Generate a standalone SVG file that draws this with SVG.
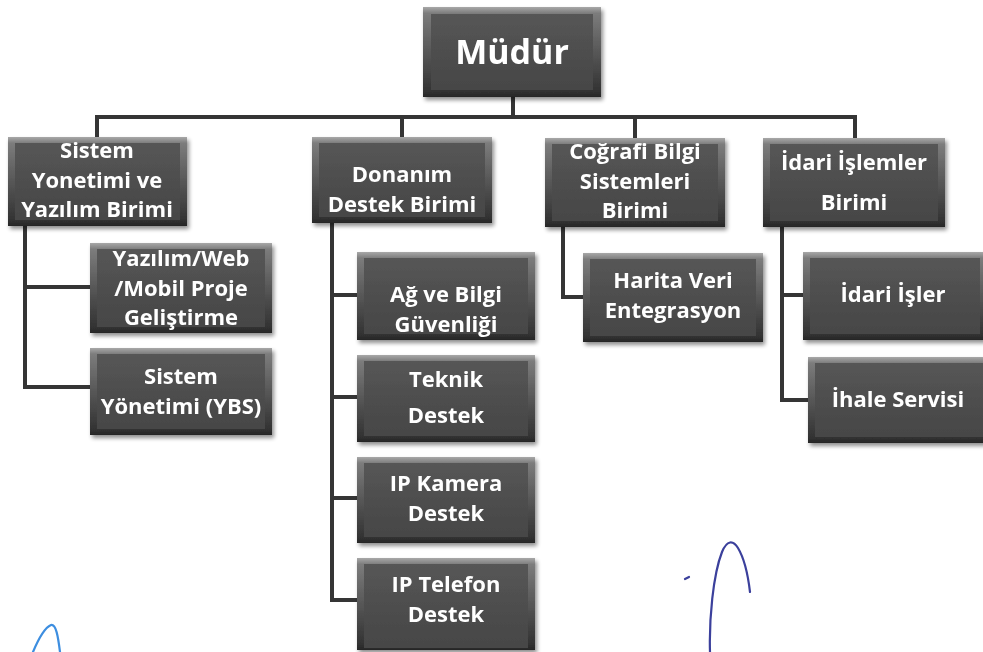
<svg xmlns="http://www.w3.org/2000/svg" width="983" height="652" viewBox="0 0 983 652">
<defs>
<linearGradient id="bev" x1="0" y1="0" x2="0" y2="1">
<stop offset="0" stop-color="#a8a8a8"/>
<stop offset="0.07" stop-color="#7c7c7c"/>
<stop offset="0.5" stop-color="#575757"/>
<stop offset="0.93" stop-color="#333333"/>
<stop offset="1" stop-color="#262626"/>
</linearGradient>
<linearGradient id="face" x1="0" y1="0" x2="0" y2="1">
<stop offset="0" stop-color="#565656"/>
<stop offset="1" stop-color="#464646"/>
</linearGradient>
<filter id="sh" x="-10%" y="-10%" width="125%" height="130%">
<feGaussianBlur in="SourceAlpha" stdDeviation="2"/>
<feOffset dx="2" dy="3" result="b"/>
<feComponentTransfer><feFuncA type="linear" slope="0.45"/></feComponentTransfer>
<feMerge><feMergeNode/><feMergeNode in="SourceGraphic"/></feMerge>
</filter>
</defs>
<style>
.o{fill:url(#bev);}
.i{fill:url(#face);}
.t{font-family:"Open Sans","Noto Sans",sans-serif;font-weight:700;fill:#ffffff;text-anchor:middle;font-size:22px;}
.big{font-size:34px;}
.c{fill:none;stroke:#353535;stroke-width:4;stroke-linecap:square;}
.pen1{fill:none;stroke:#3d8ee0;stroke-width:2.2;stroke-linecap:round;}
.pen2{fill:none;stroke:#3b409c;stroke-width:2.2;stroke-linecap:round;}
</style>
<rect width="983" height="652" fill="#ffffff"/>

<g id="connectors">
<path class="c" d="M513 97V117M97 117H855M97 117V137M402 117V137M635 117V138M855 117V138"/>
<path class="c" d="M25 226V387M25 287H90M25 387H90"/>
<path class="c" d="M332 223V600M332 295H357M332 397H357M332 498H357M332 600H357"/>
<path class="c" d="M563 227V297H583"/>
<path class="c" d="M782 227V400M782 295H803M782 400H808"/>
</g>

<g id="mudur" filter="url(#sh)">
<rect class="o" x="423" y="7" width="178" height="90"/>
<rect class="i" x="431" y="14" width="162" height="76"/>
<text class="t big" x="512" y="64">Müdür</text>
</g>

<g id="sistem" filter="url(#sh)">
<rect class="o" x="8" y="137" width="179" height="89"/>
<rect class="i" x="15" y="143" width="165" height="77"/>
<text class="t" x="97" y="158">Sistem</text>
<text class="t" x="97" y="187.5">Yonetimi ve</text>
<text class="t" x="97" y="217">Yazılım Birimi</text>
</g>

<g id="yazilim" filter="url(#sh)">
<rect class="o" x="90" y="243" width="182" height="90"/>
<rect class="i" x="97" y="249" width="168" height="78"/>
<text class="t" x="181" y="266">Yazılım/Web</text>
<text class="t" x="181" y="295.5">/Mobil Proje</text>
<text class="t" x="181" y="325">Geliştirme</text>
</g>

<g id="ybs" filter="url(#sh)">
<rect class="o" x="90" y="348" width="182" height="87"/>
<rect class="i" x="97" y="354" width="168" height="75"/>
<text class="t" x="181" y="384">Sistem</text>
<text class="t" x="181" y="413.5">Yönetimi (YBS)</text>
</g>

<g id="donanim" filter="url(#sh)">
<rect class="o" x="312" y="137" width="180" height="86"/>
<rect class="i" x="319" y="143" width="166" height="74"/>
<text class="t" x="402" y="182">Donanım</text>
<text class="t" x="402" y="211.5">Destek Birimi</text>
</g>

<g id="ag" filter="url(#sh)">
<rect class="o" x="357" y="252" width="178" height="88"/>
<rect class="i" x="364" y="258" width="164" height="76"/>
<text class="t" x="446" y="302">Ağ ve Bilgi</text>
<text class="t" x="446" y="331.5">Güvenliği</text>
</g>

<g id="teknik" filter="url(#sh)">
<rect class="o" x="357" y="355" width="178" height="87"/>
<rect class="i" x="364" y="361" width="164" height="75"/>
<text class="t" x="446" y="387">Teknik</text>
<text class="t" x="446" y="423">Destek</text>
</g>

<g id="kamera" filter="url(#sh)">
<rect class="o" x="357" y="457" width="178" height="86"/>
<rect class="i" x="364" y="463" width="164" height="74"/>
<text class="t" x="446" y="491">IP Kamera</text>
<text class="t" x="446" y="520.5">Destek</text>
</g>

<g id="telefon" filter="url(#sh)">
<rect class="o" x="357" y="558" width="178" height="92"/>
<rect class="i" x="364" y="564" width="164" height="84"/>
<text class="t" x="446" y="592">IP Telefon</text>
<text class="t" x="446" y="621.5">Destek</text>
</g>

<g id="cografi" filter="url(#sh)">
<rect class="o" x="545" y="138" width="180" height="89"/>
<rect class="i" x="552" y="144" width="166" height="77"/>
<text class="t" x="635" y="159">Coğrafi Bilgi</text>
<text class="t" x="635" y="188.5">Sistemleri</text>
<text class="t" x="635" y="218">Birimi</text>
</g>

<g id="harita" filter="url(#sh)">
<rect class="o" x="583" y="253" width="180" height="89"/>
<rect class="i" x="590" y="259" width="166" height="77"/>
<text class="t" x="673" y="288">Harita Veri</text>
<text class="t" x="673" y="317.5">Entegrasyon</text>
</g>

<g id="idari" filter="url(#sh)">
<rect class="o" x="763" y="138" width="182" height="89"/>
<rect class="i" x="770" y="144" width="168" height="77"/>
<text class="t" x="854" y="170">İdari İşlemler</text>
<text class="t" x="854" y="210">Birimi</text>
</g>

<g id="idari-isler" filter="url(#sh)">
<rect class="o" x="803" y="252" width="182" height="88"/>
<rect class="i" x="810" y="258" width="170" height="76"/>
<text class="t" x="893" y="302">İdari İşler</text>
</g>

<g id="ihale" filter="url(#sh)">
<rect class="o" x="808" y="357" width="177" height="86"/>
<rect class="i" x="815" y="363" width="170" height="74"/>
<text class="t" x="898" y="407">İhale Servisi</text>
</g>

<g id="pen">
<path class="pen1" d="M33 652C38 640 44 628 51 625C56 624 58 636 60 652"/>
<path class="pen2" d="M710 652C709 620 713 575 722 552C727 540 733 540 738 548C744 558 748 575 750 592"/>
<path class="pen2" d="M685 579L689 577" stroke-width="3"/>
</g>
</svg>
